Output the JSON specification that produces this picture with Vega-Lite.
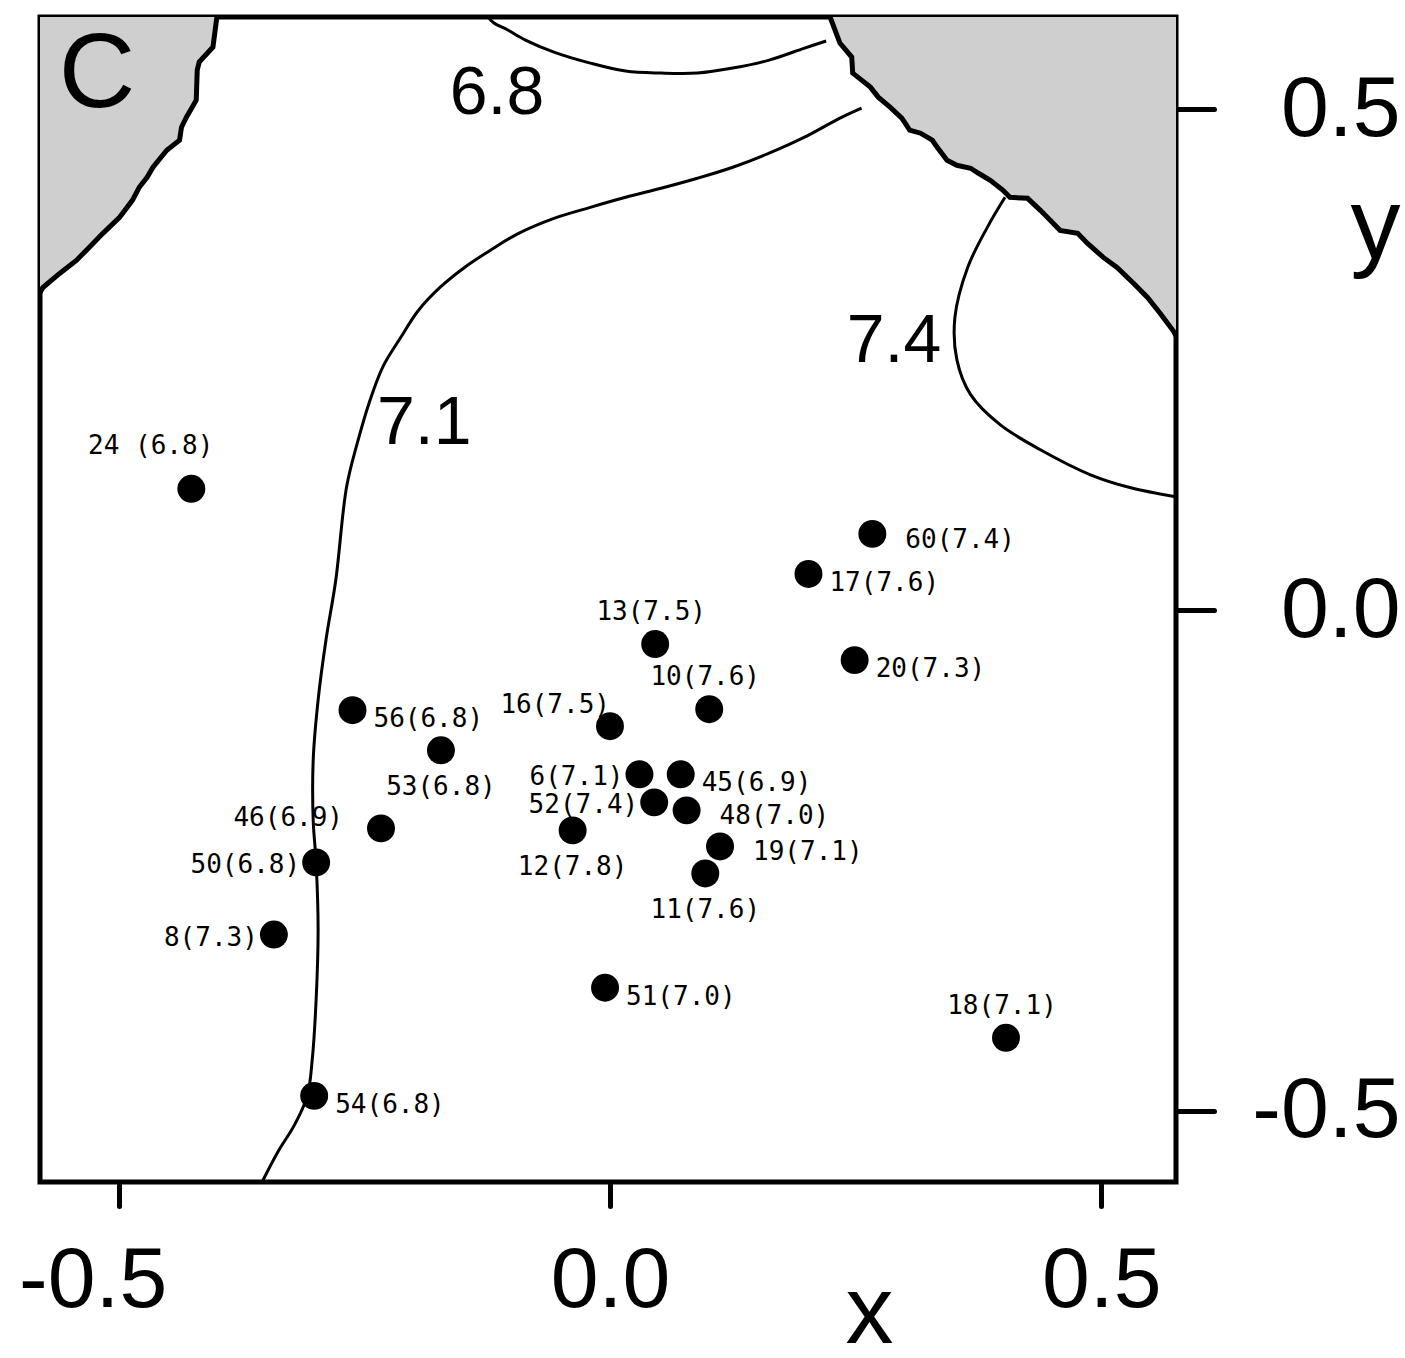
{
  "$schema": "https://vega.github.io/schema/vega-lite/v6.json",
  "width": 1136,
  "height": 1165,
  "autosize": {"type": "none"},
  "padding": {"left": 40, "top": 17, "right": 229, "bottom": 176},
  "background": "white",
  "config": {
    "view": {"stroke": "black", "strokeWidth": 5},
    "text": {"font": "DejaVu Sans Mono", "fontSize": 26, "color": "black"}
  },
  "datasets": {
    "pts": [
      {"id": "24", "lab": "24 (6.8)", "x": -0.426, "y": 0.121},
      {"id": "60", "lab": "60(7.4)", "x": 0.267, "y": 0.076},
      {"id": "17", "lab": "17(7.6)", "x": 0.202, "y": 0.036},
      {"id": "13", "lab": "13(7.5)", "x": 0.046, "y": -0.034},
      {"id": "20", "lab": "20(7.3)", "x": 0.249, "y": -0.05},
      {"id": "10", "lab": "10(7.6)", "x": 0.101, "y": -0.099},
      {"id": "16", "lab": "16(7.5)", "x": 0.0, "y": -0.116},
      {"id": "56", "lab": "56(6.8)", "x": -0.262, "y": -0.1},
      {"id": "53", "lab": "53(6.8)", "x": -0.172, "y": -0.14},
      {"id": "6", "lab": "6(7.1)", "x": 0.03, "y": -0.164},
      {"id": "45", "lab": "45(6.9)", "x": 0.072, "y": -0.164},
      {"id": "52", "lab": "52(7.4)", "x": 0.045, "y": -0.192},
      {"id": "48", "lab": "48(7.0)", "x": 0.078, "y": -0.2},
      {"id": "46", "lab": "46(6.9)", "x": -0.233, "y": -0.218},
      {"id": "12", "lab": "12(7.8)", "x": -0.038, "y": -0.22},
      {"id": "19", "lab": "19(7.1)", "x": 0.112, "y": -0.236},
      {"id": "50", "lab": "50(6.8)", "x": -0.299, "y": -0.252},
      {"id": "11", "lab": "11(7.6)", "x": 0.097, "y": -0.263},
      {"id": "8", "lab": "8(7.3)", "x": -0.342, "y": -0.324},
      {"id": "51", "lab": "51(7.0)", "x": -0.005, "y": -0.377},
      {"id": "18", "lab": "18(7.1)", "x": 0.403, "y": -0.427},
      {"id": "54", "lab": "54(6.8)", "x": -0.301, "y": -0.485}
    ],
    "contours": [
      {"c": "6.8", "i": 0, "x": -0.124, "y": 0.592},
      {"c": "6.8", "i": 1, "x": -0.118, "y": 0.586},
      {"c": "6.8", "i": 2, "x": -0.104, "y": 0.579},
      {"c": "6.8", "i": 3, "x": -0.086, "y": 0.569},
      {"c": "6.8", "i": 4, "x": -0.057, "y": 0.557},
      {"c": "6.8", "i": 5, "x": -0.02, "y": 0.546},
      {"c": "6.8", "i": 6, "x": 0.016, "y": 0.538},
      {"c": "6.8", "i": 7, "x": 0.052, "y": 0.536},
      {"c": "6.8", "i": 8, "x": 0.089, "y": 0.536},
      {"c": "6.8", "i": 9, "x": 0.125, "y": 0.541},
      {"c": "6.8", "i": 10, "x": 0.162, "y": 0.549},
      {"c": "6.8", "i": 11, "x": 0.198, "y": 0.561},
      {"c": "6.8", "i": 12, "x": 0.22, "y": 0.568},
      {"c": "7.1", "i": 0, "x": 0.256, "y": 0.501},
      {"c": "7.1", "i": 1, "x": 0.234, "y": 0.491},
      {"c": "7.1", "i": 2, "x": 0.198, "y": 0.472},
      {"c": "7.1", "i": 3, "x": 0.162, "y": 0.456},
      {"c": "7.1", "i": 4, "x": 0.125, "y": 0.442},
      {"c": "7.1", "i": 5, "x": 0.089, "y": 0.431},
      {"c": "7.1", "i": 6, "x": 0.052, "y": 0.421},
      {"c": "7.1", "i": 7, "x": 0.016, "y": 0.412},
      {"c": "7.1", "i": 8, "x": -0.02, "y": 0.402},
      {"c": "7.1", "i": 9, "x": -0.057, "y": 0.391},
      {"c": "7.1", "i": 10, "x": -0.093, "y": 0.376},
      {"c": "7.1", "i": 11, "x": -0.122, "y": 0.359},
      {"c": "7.1", "i": 12, "x": -0.148, "y": 0.342},
      {"c": "7.1", "i": 13, "x": -0.173, "y": 0.322},
      {"c": "7.1", "i": 14, "x": -0.195, "y": 0.299},
      {"c": "7.1", "i": 15, "x": -0.213, "y": 0.272},
      {"c": "7.1", "i": 16, "x": -0.231, "y": 0.243},
      {"c": "7.1", "i": 17, "x": -0.245, "y": 0.207},
      {"c": "7.1", "i": 18, "x": -0.257, "y": 0.167},
      {"c": "7.1", "i": 19, "x": -0.268, "y": 0.123},
      {"c": "7.1", "i": 20, "x": -0.279, "y": 0.03},
      {"c": "7.1", "i": 21, "x": -0.289, "y": -0.03},
      {"c": "7.1", "i": 22, "x": -0.297, "y": -0.09},
      {"c": "7.1", "i": 23, "x": -0.302, "y": -0.15},
      {"c": "7.1", "i": 24, "x": -0.302, "y": -0.21},
      {"c": "7.1", "i": 25, "x": -0.299, "y": -0.252},
      {"c": "7.1", "i": 26, "x": -0.297, "y": -0.319},
      {"c": "7.1", "i": 27, "x": -0.299, "y": -0.389},
      {"c": "7.1", "i": 28, "x": -0.303, "y": -0.449},
      {"c": "7.1", "i": 29, "x": -0.308, "y": -0.485},
      {"c": "7.1", "i": 30, "x": -0.321, "y": -0.514},
      {"c": "7.1", "i": 31, "x": -0.338, "y": -0.541},
      {"c": "7.1", "i": 32, "x": -0.354, "y": -0.571},
      {"c": "7.4", "i": 0, "x": 0.402, "y": 0.412},
      {"c": "7.4", "i": 1, "x": 0.384, "y": 0.382},
      {"c": "7.4", "i": 2, "x": 0.364, "y": 0.342},
      {"c": "7.4", "i": 3, "x": 0.351, "y": 0.292},
      {"c": "7.4", "i": 4, "x": 0.353, "y": 0.25},
      {"c": "7.4", "i": 5, "x": 0.367, "y": 0.215},
      {"c": "7.4", "i": 6, "x": 0.397, "y": 0.185},
      {"c": "7.4", "i": 7, "x": 0.438, "y": 0.16},
      {"c": "7.4", "i": 8, "x": 0.489, "y": 0.135},
      {"c": "7.4", "i": 9, "x": 0.53, "y": 0.122},
      {"c": "7.4", "i": 10, "x": 0.576, "y": 0.113}
    ],
    "shade": [
      {"r": "L", "x": -0.58, "y": 0.317},
      {"r": "L", "x": -0.577, "y": 0.322},
      {"r": "L", "x": -0.56, "y": 0.336},
      {"r": "L", "x": -0.543, "y": 0.349},
      {"r": "L", "x": -0.53, "y": 0.362},
      {"r": "L", "x": -0.516, "y": 0.376},
      {"r": "L", "x": -0.499, "y": 0.392},
      {"r": "L", "x": -0.486, "y": 0.409},
      {"r": "L", "x": -0.479, "y": 0.422},
      {"r": "L", "x": -0.471, "y": 0.432},
      {"r": "L", "x": -0.465, "y": 0.442},
      {"r": "L", "x": -0.451, "y": 0.459},
      {"r": "L", "x": -0.438, "y": 0.469},
      {"r": "L", "x": -0.436, "y": 0.482},
      {"r": "L", "x": -0.431, "y": 0.492},
      {"r": "L", "x": -0.421, "y": 0.509},
      {"r": "L", "x": -0.42, "y": 0.539},
      {"r": "L", "x": -0.418, "y": 0.547},
      {"r": "L", "x": -0.404, "y": 0.562},
      {"r": "L", "x": -0.4, "y": 0.592},
      {"r": "R", "x": 0.224, "y": 0.592},
      {"r": "R", "x": 0.234, "y": 0.566},
      {"r": "R", "x": 0.246, "y": 0.552},
      {"r": "R", "x": 0.247, "y": 0.536},
      {"r": "R", "x": 0.265, "y": 0.522},
      {"r": "R", "x": 0.273, "y": 0.512},
      {"r": "R", "x": 0.285, "y": 0.502},
      {"r": "R", "x": 0.297, "y": 0.491},
      {"r": "R", "x": 0.305, "y": 0.479},
      {"r": "R", "x": 0.316, "y": 0.476},
      {"r": "R", "x": 0.328, "y": 0.469},
      {"r": "R", "x": 0.333, "y": 0.462},
      {"r": "R", "x": 0.343, "y": 0.449},
      {"r": "R", "x": 0.353, "y": 0.444},
      {"r": "R", "x": 0.367, "y": 0.441},
      {"r": "R", "x": 0.375, "y": 0.436},
      {"r": "R", "x": 0.387, "y": 0.429},
      {"r": "R", "x": 0.4, "y": 0.419},
      {"r": "R", "x": 0.407, "y": 0.412},
      {"r": "R", "x": 0.425, "y": 0.411},
      {"r": "R", "x": 0.438, "y": 0.399},
      {"r": "R", "x": 0.451, "y": 0.386},
      {"r": "R", "x": 0.458, "y": 0.379},
      {"r": "R", "x": 0.476, "y": 0.376},
      {"r": "R", "x": 0.486, "y": 0.366},
      {"r": "R", "x": 0.502, "y": 0.352},
      {"r": "R", "x": 0.516, "y": 0.342},
      {"r": "R", "x": 0.533, "y": 0.326},
      {"r": "R", "x": 0.547, "y": 0.312},
      {"r": "R", "x": 0.56, "y": 0.296},
      {"r": "R", "x": 0.573, "y": 0.279},
      {"r": "R", "x": 0.577, "y": 0.272}
    ],
    "notes": [
      {"t": "6.8", "x": -0.115, "y": 0.515},
      {"t": "7.1", "x": -0.189, "y": 0.186},
      {"t": "7.4", "x": 0.289, "y": 0.268}
    ],
    "panel": [
      {"t": "C", "x": -0.522, "y": 0.534}
    ]
  },
  "encoding": {
    "x": {
      "field": "x", "type": "quantitative",
      "scale": {"domain": [-0.58, 0.576], "nice": false, "zero": false},
      "axis": {
        "orient": "bottom", "values": [-0.5, 0, 0.5], "title": "x",
        "domain": false, "grid": false, "tickSize": 24, "tickWidth": 5, "tickColor": "black", "tickCap": "round",
        "labelFont": "Liberation Sans", "labelFontSize": 86, "labelColor": "black", "labelPadding": 32,
        "labelBaseline": "top", "labelFlush": false, "labelOverlap": false,
        "labelExpr": "datum.value < 0 ? '-' + format(-datum.value, '.1f') : format(datum.value, '.1f')",
        "labelOffset": {"condition": {"test": "datum.value < 0", "value": -26}, "value": 0},
        "titleFont": "Liberation Sans", "titleFontSize": 96, "titleFontWeight": "normal", "titleColor": "black",
        "titleX": 829, "titleY": 160, "titleBaseline": "alphabetic", "titleAlign": "center"
      }
    },
    "y": {
      "field": "y", "type": "quantitative",
      "scale": {"domain": [-0.571, 0.592], "nice": false, "zero": false},
      "axis": {
        "orient": "right", "values": [-0.5, 0, 0.5], "title": "y",
        "domain": false, "grid": false, "tickSize": 38, "tickWidth": 5, "tickColor": "black", "tickCap": "round",
        "labelFont": "Liberation Sans", "labelFontSize": 86, "labelColor": "black", "labelPadding": 186,
        "labelAlign": "right", "labelBaseline": "middle", "labelFlush": false, "labelOverlap": false,
        "labelExpr": "datum.value < 0 ? '-' + format(-datum.value, '.1f') : format(datum.value, '.1f')",
        "titleFont": "Liberation Sans", "titleFontSize": 100, "titleFontWeight": "normal", "titleColor": "black",
        "titleAngle": 0, "titleX": 199, "titleY": 240, "titleBaseline": "alphabetic", "titleAlign": "center"
      }
    }
  },
  "layer": [
    {
      "data": {"name": "shade"},
      "mark": {"type": "area", "color": "#cfcfcf", "clip": true},
      "encoding": {"y2": {"datum": 0.592}, "detail": {"field": "r"}}
    },
    {
      "data": {"name": "shade"},
      "mark": {"type": "line", "color": "black", "strokeWidth": 5, "clip": true},
      "encoding": {"detail": {"field": "r"}}
    },
    {
      "data": {"name": "contours"},
      "mark": {"type": "line", "color": "black", "strokeWidth": 3, "interpolate": "catmull-rom", "clip": true},
      "encoding": {"detail": {"field": "c"}, "order": {"field": "i"}}
    },
    {
      "data": {"name": "notes"},
      "mark": {"type": "text", "font": "Liberation Sans", "fontSize": 68, "baseline": "middle", "align": "center"},
      "encoding": {"text": {"field": "t"}}
    },
    {
      "data": {"name": "panel"},
      "mark": {"type": "text", "font": "Liberation Sans", "fontSize": 106, "baseline": "middle", "align": "center"},
      "encoding": {"text": {"field": "t"}}
    },
    {
      "data": {"name": "pts"},
      "mark": {"type": "point", "shape": "circle", "filled": true, "color": "black", "opacity": 1, "size": 780},
      "encoding": {}
    },
    {
      "data": {"name": "pts"},
      "transform": [{"filter": {"field": "id", "oneOf": ["17", "56", "45", "51", "54", "20"]}}],
      "mark": {"type": "text", "align": "left", "baseline": "middle", "dx": 21, "dy": 9},
      "encoding": {"text": {"field": "lab"}}
    },
    {
      "data": {"name": "pts"},
      "transform": [{"filter": {"field": "id", "oneOf": ["48", "19", "60"]}}],
      "mark": {"type": "text", "align": "left", "baseline": "middle", "dx": 33, "dy": 6},
      "encoding": {"text": {"field": "lab"}}
    },
    {
      "data": {"name": "pts"},
      "transform": [{"filter": {"field": "id", "oneOf": ["6", "52", "50", "8"]}}],
      "mark": {"type": "text", "align": "right", "baseline": "middle", "dx": -16, "dy": 3},
      "encoding": {"text": {"field": "lab"}}
    },
    {
      "data": {"name": "pts"},
      "transform": [{"filter": {"field": "id", "oneOf": ["13", "10", "18"]}}],
      "mark": {"type": "text", "align": "center", "baseline": "middle", "dx": -4, "dy": -32},
      "encoding": {"text": {"field": "lab"}}
    },
    {
      "data": {"name": "pts"},
      "transform": [{"filter": {"field": "id", "oneOf": ["53", "12", "11"]}}],
      "mark": {"type": "text", "align": "center", "baseline": "middle", "dx": 0, "dy": 37},
      "encoding": {"text": {"field": "lab"}}
    },
    {
      "data": {"name": "pts"},
      "transform": [{"filter": {"field": "id", "equal": "16"}}],
      "mark": {"type": "text", "align": "right", "baseline": "middle", "dx": 0, "dy": -21},
      "encoding": {"text": {"field": "lab"}}
    },
    {
      "data": {"name": "pts"},
      "transform": [{"filter": {"field": "id", "equal": "46"}}],
      "mark": {"type": "text", "align": "right", "baseline": "middle", "dx": -38, "dy": -10},
      "encoding": {"text": {"field": "lab"}}
    },
    {
      "data": {"name": "pts"},
      "transform": [{"filter": {"field": "id", "equal": "24"}}],
      "mark": {"type": "text", "align": "right", "baseline": "middle", "dx": 22, "dy": -43},
      "encoding": {"text": {"field": "lab"}}
    }
  ]
}
